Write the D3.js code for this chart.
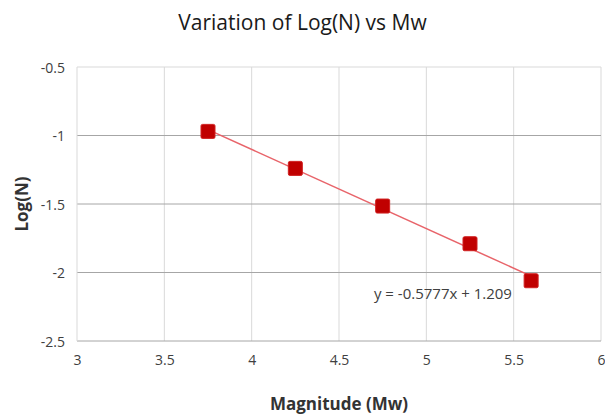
<!DOCTYPE html>
<html>
<head>
<meta charset="utf-8">
<script src="https://cdn.jsdelivr.net/npm/d3@7"></script>
<style>
  html, body { margin: 0; padding: 0; background: #fff; overflow: hidden; }
  svg { display: block; }
</style>
</head>
<body>
<svg id="graph"></svg>
<script>
// data
var magnitudes = [3.75, 4.25, 4.75, 5.25, 5.6];
var logN = [-0.97, -1.24, -1.515, -1.79, -2.06];
var xTicks = [3, 3.5, 4, 4.5, 5, 5.5, 6];
var yTicks = [-0.5, -1, -1.5, -2, -2.5];
var slope = -0.5777, intercept = 1.209;
var equationLabel = "y = -0.5777x + 1.209";

var font = '"Open Sans", "DejaVu Sans", sans-serif';
var outerWidth = 605, outerHeight = 417;
var margins = { top: 67, right: 4, bottom: 76, left: 77 };
var innerWidth = outerWidth - margins.left - margins.right;
var innerHeight = outerHeight - margins.top - margins.bottom;

var svg = d3.select('svg#graph')
  .attr('width', outerWidth)
  .attr('height', outerHeight)
  .attr('font-family', font);

var g = svg.append('g')
  .attr('transform', 'translate(' + margins.left + ',' + margins.top + ')');

var x = d3.scaleLinear().domain([3, 6]).range([0, innerWidth]);
var y = d3.scaleLinear().domain([-2.5, -0.5]).range([innerHeight, 0]);

// vertical gridlines (light)
g.append('g')
  .selectAll('line')
  .data(xTicks.slice(1))
  .join('line')
  .attr('x1', d => x(d)).attr('x2', d => x(d))
  .attr('y1', 0).attr('y2', innerHeight)
  .attr('stroke', '#d9d9d9').attr('stroke-width', 1);

// horizontal gridlines (darker)
g.append('g')
  .selectAll('line')
  .data(yTicks)
  .join('line')
  .attr('x1', 0).attr('x2', innerWidth)
  .attr('y1', d => y(d)).attr('y2', d => y(d))
  .attr('stroke', d => d === -0.5 ? '#d9d9d9' : '#a6a6a6').attr('stroke-width', 1);

// left edge
g.append('line')
  .attr('x1', 0).attr('x2', 0).attr('y1', 0).attr('y2', innerHeight)
  .attr('stroke', '#d9d9d9');

// axes (labels only), plain hyphen for negatives like the original
var xAxis = d3.axisBottom(x).tickValues(xTicks).tickSize(0).tickPadding(14).tickFormat(d => String(d));
var yAxis = d3.axisLeft(y).tickValues(yTicks).tickSize(0).tickPadding(12).tickFormat(d => String(d));

var gx = g.append('g').attr('transform', 'translate(0,' + innerHeight + ')').call(xAxis);
var gy = g.append('g').call(yAxis);
[gx, gy].forEach(function (a) {
  a.attr('font-family', font).attr('font-size', 14);
  a.select('.domain').remove();
  a.selectAll('text').attr('fill', '#404040');
});
gx.selectAll('text').attr('dy', 10);
gy.selectAll('text').attr('dy', 5);
gx.selectAll('text').filter(d => d === 6).attr('text-anchor', 'end').attr('dx', 4);

// trendline
var trendX = [d3.min(magnitudes), d3.max(magnitudes)];
g.append('line')
  .attr('x1', x(trendX[0])).attr('y1', y(slope * trendX[0] + intercept))
  .attr('x2', x(trendX[1])).attr('y2', y(slope * trendX[1] + intercept))
  .attr('stroke', '#e8646a').attr('stroke-width', 1.5);

// markers
var size = 14;
g.append('g')
  .selectAll('rect')
  .data(magnitudes)
  .join('rect')
  .attr('x', d => x(d) - size / 2)
  .attr('y', (d, i) => y(logN[i]) - size / 2)
  .attr('width', size).attr('height', size)
  .attr('rx', 1.5)
  .attr('fill', '#c00000')
  .attr('stroke', '#d02020').attr('stroke-width', 1);

// equation
g.append('text')
  .attr('x', x(4.7))
  .attr('y', y(-2.19))
  .attr('font-size', 15)
  .attr('fill', '#404040')
  .text(equationLabel);

// title
svg.append('text')
  .attr('x', outerWidth / 2)
  .attr('y', 30)
  .attr('text-anchor', 'middle')
  .attr('font-size', 21)
  .attr('fill', '#1a1a1a')
  .text('Variation of Log(N) vs Mw');

// axis titles
svg.append('text')
  .attr('x', margins.left + innerWidth / 2)
  .attr('y', 410)
  .attr('text-anchor', 'middle')
  .attr('font-size', 17)
  .attr('font-weight', 'bold')
  .attr('fill', '#333')
  .text('Magnitude (Mw)');

svg.append('text')
  .attr('transform', 'translate(28,' + (margins.top + innerHeight / 2) + ') rotate(-90)')
  .attr('text-anchor', 'middle')
  .attr('font-size', 17)
  .attr('font-weight', 'bold')
  .attr('fill', '#333')
  .text('Log(N)');
</script>
</body>
</html>
